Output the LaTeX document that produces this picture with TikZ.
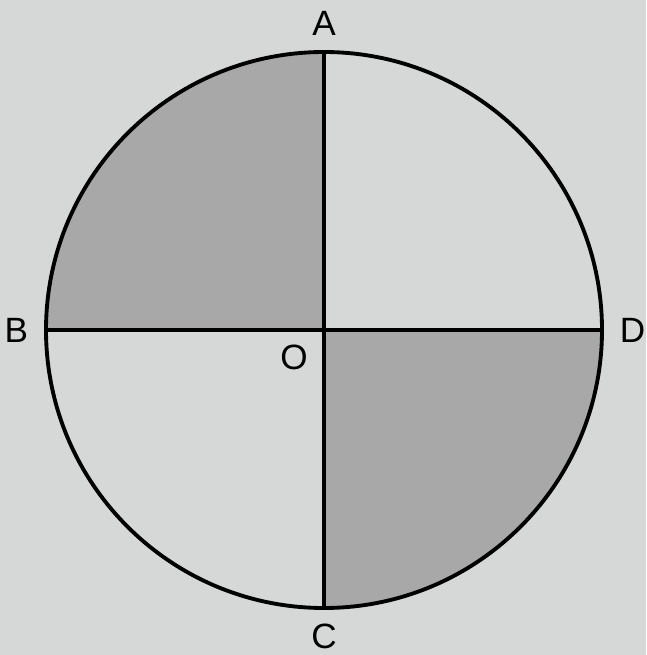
\documentclass[tikz,border=0pt]{standalone}
\usepackage{fontspec}
\setmainfont{Liberation Sans}
\usetikzlibrary{positioning,calc}
\definecolor{paper}{RGB}{214,216,216}
\definecolor{shade}{RGB}{168,168,168}
\tikzset{
    rim/.style = {draw, line width=2.2pt},
    diam/.style = {line width=2.2pt},
    quad/.style = {fill=shade},
    lbl/.style = {font=\fontsize{20}{20}\selectfont, inner sep=0pt},
}

\begin{document}
\begin{tikzpicture}[x=0.02cm, y=-0.02cm]
    \fill[paper] (0,0) rectangle (646,655);
    \useasboundingbox (0,0) rectangle (646,655);
    \coordinate (O) at (324,330);
    \coordinate (A) at ($(O)+(0,-278)$);
    \coordinate (B) at ($(O)+(-278,0)$);
    \coordinate (C) at ($(O)+(0,278)$);
    \coordinate (D) at ($(O)+(278,0)$);

    % shaded quadrants
    \fill[quad] (O) -- (B) arc[start angle=180, end angle=270, radius=278] -- cycle;
    \fill[quad] (O) -- (D) arc[start angle=0, end angle=90, radius=278] -- cycle;

    \draw[rim] (O) circle[radius=278];
    \draw[diam] (A) -- (C);
    \draw[diam] (B) -- (D);

    \node[lbl, above=9pt of A] (labA) {A};
    \node[lbl, left=10pt of B] (labB) {B};
    \node[lbl, below=9pt of C] (labC) {C};
    \node[lbl, right=10pt of D] (labD) {D};
    \node[lbl] (labO) at (294,357) {O};
\end{tikzpicture}
\end{document}
